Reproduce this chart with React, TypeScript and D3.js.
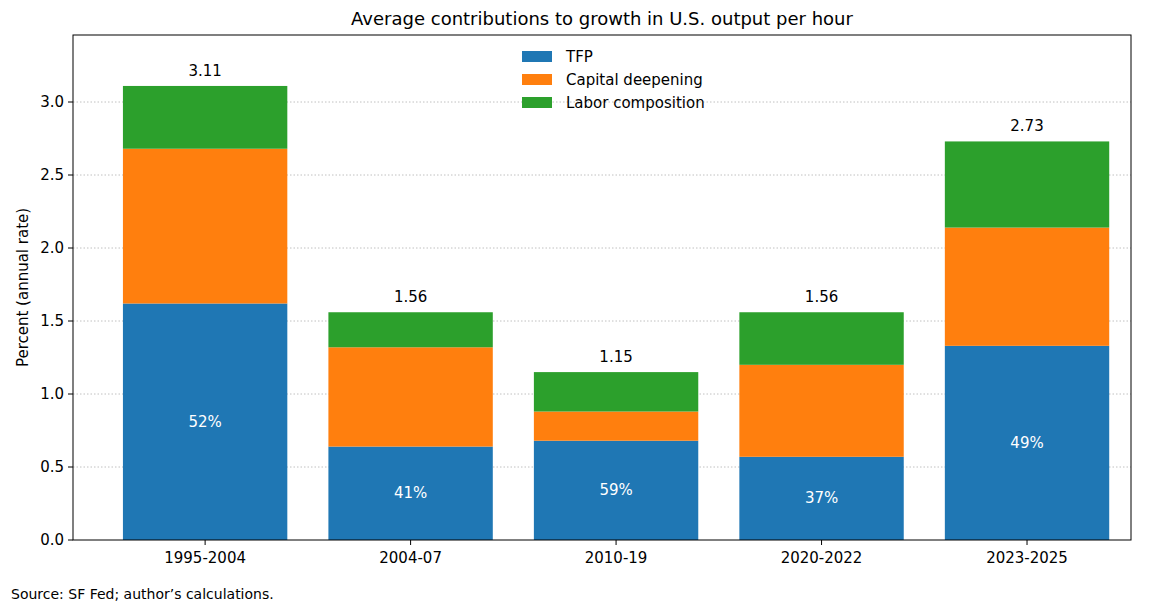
import React from "react";
import * as d3 from "d3";

const categories = ["1995-2004", "2004-07", "2010-19", "2020-2022", "2023-2025"];
const tfp = [1.62, 0.64, 0.68, 0.57, 1.33];
const capital = [1.06, 0.68, 0.20, 0.63, 0.81];
const labor = [0.43, 0.24, 0.27, 0.36, 0.59];
const totals = ["3.11", "1.56", "1.15", "1.56", "2.73"];
const shares = ["52%", "41%", "59%", "37%", "49%"];
const yTicks = [0, 0.5, 1.0, 1.5, 2.0, 2.5, 3.0];
const seriesNames = ["TFP", "Capital deepening", "Labor composition"];
const colors = ["#1f77b4", "#ff7f0e", "#2ca02c"];

export default function App() {
  const L = 73, R = 1131, T = 35, B = 540;
  const x = d3.scaleLinear().domain([-0.643, 4.506]).range([L, R]);
  const y = d3.scaleLinear().domain([0, 3.459]).range([B, T]);
  const bw = x(0.8) - x(0);
  const series = [tfp, capital, labor];
  const font = "DejaVu Sans, sans-serif";
  return (
    <svg width={1169} height={613} style={{ position: "absolute", left: 0, top: 0, fontFamily: font }}>
      <rect width={1169} height={613} fill="white" />
      {yTicks.slice(1).map((t) => (
        <line key={t} x1={L} x2={R} y1={y(t)} y2={y(t)} stroke="#b0b0b0" strokeWidth={0.8} strokeDasharray="1.5,2" />
      ))}
      {categories.map((c, i) => {
        let base = 0;
        return (
          <g key={c}>
            {series.map((s, k) => {
              const y0 = base;
              base += s[i];
              return <rect key={k} x={x(i) - bw / 2} width={bw} y={y(base)} height={y(y0) - y(base)} fill={colors[k]} />;
            })}
            <text x={x(i)} y={y(base) - 10} textAnchor="middle" fontSize={15}>{totals[i]}</text>
            <text x={x(i)} y={y(tfp[i] / 2) + 5} textAnchor="middle" fontSize={15} fill="white">{shares[i]}</text>
            <line x1={x(i)} x2={x(i)} y1={B} y2={B + 5} stroke="black" />
            <text x={x(i)} y={B + 23} textAnchor="middle" fontSize={15}>{c}</text>
          </g>
        );
      })}
      {yTicks.map((t) => (
        <g key={t}>
          <line x1={L - 5} x2={L} y1={y(t)} y2={y(t)} stroke="black" />
          <text x={L - 9} y={y(t) + 5} textAnchor="end" fontSize={15}>{t.toFixed(1)}</text>
        </g>
      ))}
      <rect x={L} y={T} width={R - L} height={B - T} fill="none" stroke="black" strokeWidth={1} />
      {seriesNames.map((n, k) => (
        <g key={n}>
          <rect x={522} y={51 + k * 23} width={30} height={11} fill={colors[k]} />
          <text x={566} y={62 + k * 23} fontSize={15}>{n}</text>
        </g>
      ))}
      <text x={(L + R) / 2} y={25} textAnchor="middle" fontSize={18}>Average contributions to growth in U.S. output per hour</text>
      <text transform={`translate(28,${(T + B) / 2}) rotate(-90)`} textAnchor="middle" fontSize={15}>Percent (annual rate)</text>
      <text x={11} y={599} fontSize={14}>Source: SF Fed; author’s calculations.</text>
    </svg>
  );
}
